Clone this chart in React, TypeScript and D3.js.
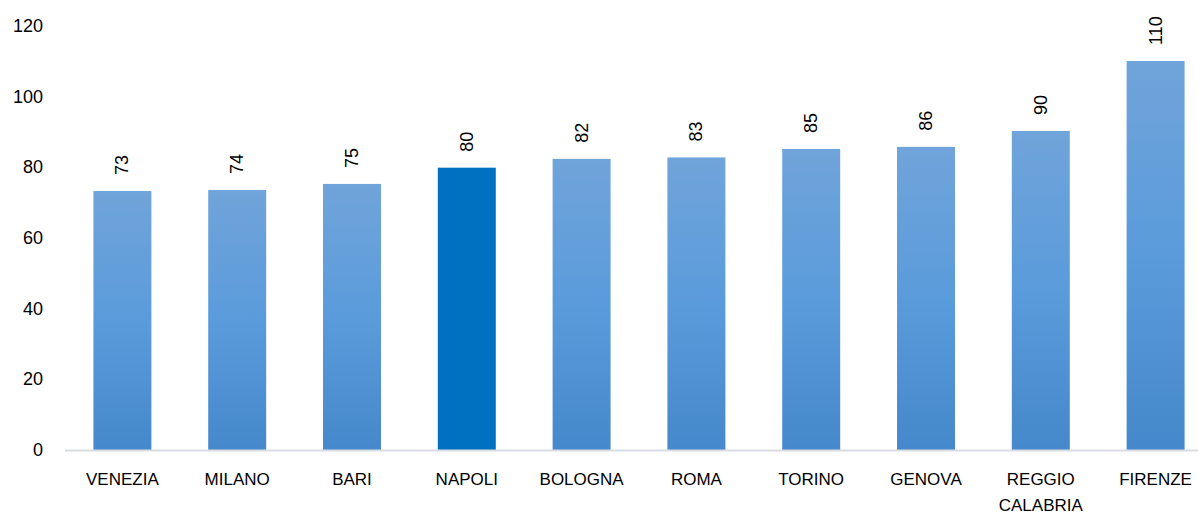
import React, { useEffect, useRef } from 'react';
import * as d3 from 'd3';

const cities = ['VENEZIA', 'MILANO', 'BARI', 'NAPOLI', 'BOLOGNA', 'ROMA', 'TORINO', 'GENOVA', 'REGGIO CALABRIA', 'FIRENZE'];
const values = [73.3, 73.6, 75.3, 79.9, 82.4, 82.8, 85.2, 85.8, 90.3, 110.1];
const yTicks = [0, 20, 40, 60, 80, 100, 120];
const highlight = 'NAPOLI';

const width = 1198;
const height = 514;

const Chart = () => {
  const container = useRef(null);

  useEffect(() => {
    const svg = d3.select(container.current).selectAll('svg').data([0]).join('svg');
    svg
      .attr('width', width)
      .attr('height', height)
      .style('position', 'absolute')
      .style('left', '0px')
      .style('top', '0px')
      .style('font-family', '"Liberation Sans", Arial, sans-serif');

    const data = cities.map((c, i) => ({ city: c, value: values[i] }));

    const xScale = d3.scaleBand().domain(cities).range([65, 1213]).paddingInner(0.495).paddingOuter(0.2475);
    const yScale = d3.scaleLinear().domain([0, 120]).range([450, 26]);

    const defs = svg.selectAll('defs').data([0]).join('defs');
    const grad = defs.selectAll('linearGradient').data([0]).join('linearGradient')
      .attr('id', 'barGrad')
      .attr('x1', 0).attr('y1', 0).attr('x2', 0).attr('y2', 1);
    grad.selectAll('stop')
      .data([
        { o: '0%', c: '#70a4da' },
        { o: '50%', c: '#5a9bdb' },
        { o: '100%', c: '#4588cb' }
      ])
      .join('stop')
      .attr('offset', d => d.o)
      .attr('stop-color', d => d.c);

    // y axis labels
    svg.selectAll('.ylabel')
      .data(yTicks)
      .join('text')
      .attr('class', 'ylabel')
      .attr('x', 43)
      .attr('y', d => yScale(d) + 6)
      .attr('text-anchor', 'end')
      .attr('font-size', 18)
      .attr('fill', '#000')
      .text(d => d);

    // bars
    svg.selectAll('.bar')
      .data(data)
      .join('rect')
      .attr('class', 'bar')
      .attr('x', d => xScale(d.city))
      .attr('width', xScale.bandwidth())
      .attr('y', d => yScale(d.value))
      .attr('height', d => yScale(0) - yScale(d.value))
      .attr('fill', d => (d.city === highlight ? '#0070c0' : 'url(#barGrad)'));

    // baseline
    svg.selectAll('.baseline')
      .data([0])
      .join('line')
      .attr('class', 'baseline')
      .attr('x1', 65)
      .attr('x2', width)
      .attr('y1', yScale(0) + 0.5)
      .attr('y2', yScale(0) + 0.5)
      .attr('stroke', '#d9dde3')
      .attr('stroke-width', 2);

    // value labels (rounded, rotated)
    svg.selectAll('.vlabel')
      .data(data)
      .join('text')
      .attr('class', 'vlabel')
      .attr('transform', d => `translate(${xScale(d.city) + xScale.bandwidth() / 2},${yScale(d.value) - 16})rotate(-90)`)
      .attr('dominant-baseline', 'central')
      .attr('font-size', 18)
      .attr('fill', '#000')
      .text(d => Math.round(d.value));

    // category labels
    const cat = svg.selectAll('.xlabel')
      .data(data)
      .join('text')
      .attr('class', 'xlabel')
      .attr('text-anchor', 'middle')
      .attr('font-size', 17)
      .attr('fill', '#000');
    cat.selectAll('tspan')
      .data(d => d.city.split(' ').map(w => ({ w, x: xScale(d.city) + xScale.bandwidth() / 2 })))
      .join('tspan')
      .attr('x', d => d.x)
      .attr('y', (d, i) => 485 + i * 26)
      .text(d => d.w);
  }, []);

  return <div ref={container}></div>;
};

export default function App() {
  return <Chart />;
}
